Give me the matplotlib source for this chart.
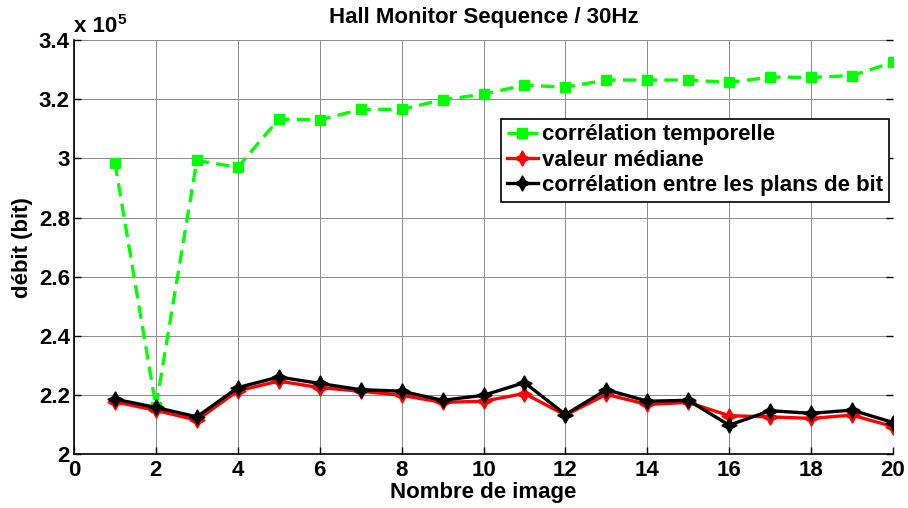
import matplotlib.pyplot as plt
from matplotlib.ticker import FuncFormatter

plt.rcParams['font.family'] = ['Liberation Sans', 'DejaVu Sans']
plt.rcParams['font.weight'] = 'bold'

# data (debit in units of 1e5 bits)
images = list(range(1, 21))
corr_temporelle = [2.985, 2.16, 2.993, 2.970, 3.133, 3.130, 3.166, 3.166, 3.198, 3.217,
                   3.248, 3.241, 3.265, 3.265, 3.265, 3.257, 3.275, 3.274, 3.280, 3.325]
valeur_mediane = [2.177, 2.148, 2.115, 2.214, 2.247, 2.225, 2.213, 2.199, 2.175, 2.179,
                  2.205, 2.132, 2.202, 2.168, 2.175, 2.130, 2.126, 2.121, 2.132, 2.093]
corr_plans_bit = [2.186, 2.158, 2.126, 2.225, 2.261, 2.239, 2.218, 2.213, 2.182, 2.199,
                  2.242, 2.134, 2.218, 2.179, 2.182, 2.098, 2.147, 2.138, 2.149, 2.107]

fig = plt.figure(figsize=(9.08, 5.08), dpi=100)
ax = fig.add_axes([0.0815, 0.106, 0.902, 0.815])

star = (4, 1, 0)
ax.plot(images, corr_temporelle, color='#00ff00', linestyle='--', linewidth=2.4,
        marker='s', markersize=7, markerfacecolor='#00ff00', dashes=(4, 2.2),
        label='corrélation temporelle')
ax.plot(images, valeur_mediane, color='red', linewidth=2.4, marker=star, markersize=11,
        label='valeur médiane')
ax.plot(images, corr_plans_bit, color='black', linewidth=2.4, marker=star, markersize=11,
        label='corrélation entre les plans de bit')

ax.set_xlim(0, 20)
ax.set_ylim(2.0, 3.4)
ax.set_xticks(range(0, 21, 2))
ax.set_yticks([2.0, 2.2, 2.4, 2.6, 2.8, 3.0, 3.2, 3.4])
ax.yaxis.set_major_formatter(FuncFormatter(lambda v, p: f"{v:g}"))
ax.tick_params(direction='in', length=5, width=1, labelsize=16, top=False, right=True)
ax.tick_params(axis='x', pad=4)
ax.tick_params(axis='y', pad=3)
ax.grid(True, color='#8a8a8a', linewidth=0.7)
ax.spines['top'].set_visible(False)
ax.spines['right'].set_visible(False)
for s in ['left', 'bottom']:
    ax.spines[s].set_linewidth(1.2)

ax.set_title('Hall Monitor Sequence / 30Hz', fontsize=16, fontweight='bold', pad=12.5)
ax.set_xlabel('Nombre de image', fontsize=16, fontweight='bold', labelpad=1)
ax.set_ylabel('débit (bit)', fontsize=16, fontweight='bold', labelpad=4)

ax.text(0.0, 1.008, 'x 10', transform=ax.transAxes, fontsize=16, fontweight='bold',
        ha='left', va='bottom')
ax.text(0.053, 1.031, '5', transform=ax.transAxes, fontsize=11, fontweight='bold',
        ha='left', va='bottom')

leg = ax.legend(loc='upper right', bbox_to_anchor=(0.995, 0.81), fontsize=16,
                fancybox=False, framealpha=1, edgecolor='black', borderpad=0.25,
                handlelength=1.4, handletextpad=0.2, labelspacing=0.2, borderaxespad=0)
leg.get_frame().set_linewidth(1.2)

fig.savefig('out.png', dpi=100)
plt.close(fig)
